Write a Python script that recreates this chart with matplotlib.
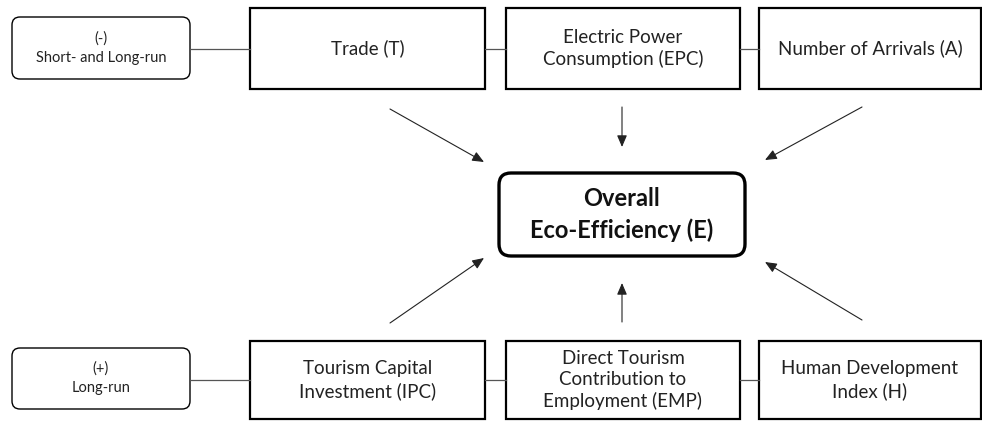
import matplotlib.pyplot as plt
from matplotlib.patches import FancyBboxPatch, Rectangle

plt.rcParams['font.family'] = ['Lato', 'DejaVu Sans']

# diagram content
top_labels = ["Trade (T)", "Electric Power\nConsumption (EPC)", "Number of Arrivals (A)"]
bottom_labels = ["Tourism Capital\nInvestment (IPC)", "Direct Tourism\nContribution to\nEmployment (EMP)",
                 "Human Development\nIndex (H)"]
sign_labels = ["(-)\nShort- and Long-run", "(+)\nLong-run"]
center_label = "Overall\nEco-Efficiency (E)"

# layout in pixel units (y down)
col_x = [(250, 485), (506, 740), (759, 981)]
top_y = (8, 89)
bot_y = (341, 419)
sign_x = (12, 190)
sign_y = [(17, 79), (348, 409)]
center = (499, 173, 745, 256)

fig = plt.figure(figsize=(9.82, 4.23), dpi=100)
ax = fig.add_axes([0, 0, 1, 1])
ax.set_xlim(0, 982)
ax.set_ylim(423, 0)
ax.axis('off')


def box(x0, x1, y0, y1, text, size=13.5):
    ax.add_patch(Rectangle((x0, y0), x1 - x0, y1 - y0, fill=False, lw=1.6, ec='black'))
    ax.text((x0 + x1) / 2, (y0 + y1) / 2, text, ha='center', va='center',
            fontsize=size, linespacing=1.3, color='#222222')


for (x0, x1), lab in zip(col_x, top_labels):
    box(x0, x1, top_y[0], top_y[1], lab)
for (x0, x1), lab in zip(col_x, bottom_labels):
    box(x0, x1, bot_y[0], bot_y[1], lab)

# connectors between boxes
for yy in [49, 380]:
    ax.plot([sign_x[1], col_x[0][0]], [yy, yy], color='#555555', lw=0.9)
    ax.plot([col_x[0][1], col_x[1][0]], [yy, yy], color='#555555', lw=0.9)
    ax.plot([col_x[1][1], col_x[2][0]], [yy, yy], color='#555555', lw=0.9)

# sign boxes
for (y0, y1), lab in zip(sign_y, sign_labels):
    ax.add_patch(FancyBboxPatch((sign_x[0] + 8, y0 + 8), sign_x[1] - sign_x[0] - 16, y1 - y0 - 16,
                                boxstyle="round,pad=8", fill=False, lw=1.0, ec='black'))
    ax.text((sign_x[0] + sign_x[1]) / 2, (y0 + y1) / 2, lab, ha='center', va='center',
            fontsize=10.5, linespacing=1.5, color='#222222')

# center box
cx0, cy0, cx1, cy1 = center
ax.add_patch(FancyBboxPatch((cx0 + 12, cy0 + 12), cx1 - cx0 - 24, cy1 - cy0 - 24,
                            boxstyle="round,pad=12", fill=False, lw=2.4, ec='black'))
ax.text((cx0 + cx1) / 2, (cy0 + cy1) / 2, center_label, ha='center', va='center',
        fontsize=17, fontweight='bold', linespacing=1.4, color='#111111')

# arrows towards the center
arrows = [((390, 109), (484, 162)), ((622, 107), (622, 147)), ((862, 107), (765, 160)),
          ((390, 323), (484, 258)), ((622, 322), (622, 283)), ((862, 320), (765, 262))]
for start, end in arrows:
    ax.annotate('', xy=end, xytext=start,
                arrowprops=dict(arrowstyle='-|>,head_length=0.7,head_width=0.3',
                                color='#222222', lw=0.8, shrinkA=0, shrinkB=0))

fig.savefig('out.png', dpi=100)
